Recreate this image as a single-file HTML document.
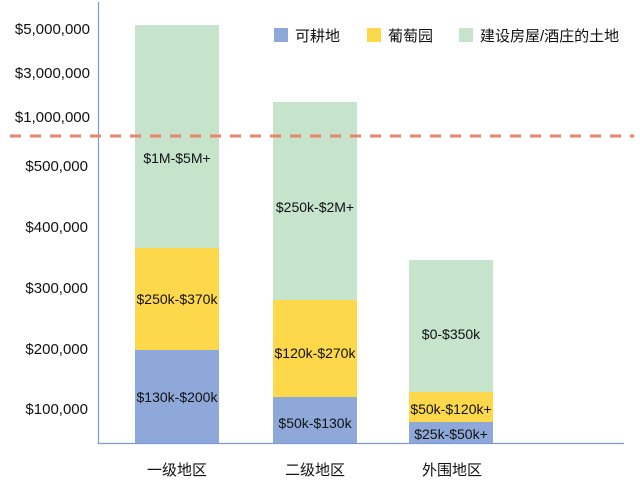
<!DOCTYPE html>
<html><head><meta charset="utf-8"><style>
body{margin:0;background:#fff}
svg text{font-family:"Liberation Sans","Noto Sans CJK SC",sans-serif}
</style></head><body>
<svg width="640" height="488" xmlns="http://www.w3.org/2000/svg">
<rect width="640" height="488" fill="#fff"/>
<g fill="#c6e4cc">
<rect x="135" y="25" width="84" height="224"/>
<rect x="273" y="102" width="84" height="199"/>
<rect x="409" y="260" width="84" height="133"/>
</g>
<g fill="#fdd84b">
<rect x="135" y="248" width="84" height="103"/>
<rect x="273" y="300" width="84" height="98"/>
<rect x="409" y="392" width="84" height="31"/>
</g>
<g fill="#8ea9d9">
<rect x="135" y="350" width="84" height="93"/>
<rect x="273" y="397" width="84" height="46"/>
<rect x="409" y="422" width="84" height="21"/>
</g>
<line x1="98.5" y1="2" x2="98.5" y2="444" stroke="#7a9cd0" stroke-width="1.2"/>
<line x1="98" y1="443.5" x2="624" y2="443.5" stroke="#7a9cd0" stroke-width="1.2"/>
<line x1="10" y1="136" x2="634" y2="136" stroke="#ea8468" stroke-width="3" stroke-dasharray="11,9"/>
<g font-size="15" fill="#111" text-anchor="end">
<text x="90" y="34">$5,000,000</text>
<text x="90" y="78">$3,000,000</text>
<text x="90" y="122">$1,000,000</text>
<text x="88" y="171">$500,000</text>
<text x="88" y="232">$400,000</text>
<text x="88" y="293">$300,000</text>
<text x="88" y="354">$200,000</text>
<text x="88" y="414">$100,000</text>
</g>
<g font-size="14" fill="#111" text-anchor="middle">
<text x="177" y="163">$1M-$5M+</text>
<text x="177" y="304">$250k-$370k</text>
<text x="177" y="402">$130k-$200k</text>
<text x="315" y="212">$250k-$2M+</text>
<text x="315" y="358">$120k-$270k</text>
<text x="315" y="428">$50k-$130k</text>
<text x="451" y="339">$0-$350k</text>
<text x="451" y="414">$50k-$120k+</text>
<text x="451" y="439">$25k-$50k+</text>
</g>
<g font-size="15" fill="#111" text-anchor="middle">
<text x="177" y="475">一级地区</text>
<text x="315" y="475">二级地区</text>
<text x="452" y="475">外围地区</text>
</g>
<rect x="274" y="28" width="14" height="14" fill="#8ea9d9"/>
<rect x="367" y="28" width="14" height="14" fill="#fdd84b"/>
<rect x="459" y="28" width="14" height="14" fill="#c6e4cc"/>
<g font-size="15" fill="#111">
<text x="295" y="41">可耕地</text>
<text x="388" y="41">葡萄园</text>
<text x="480" y="41">建设房屋/酒庄的土地</text>
</g>
</svg>
</body></html>
